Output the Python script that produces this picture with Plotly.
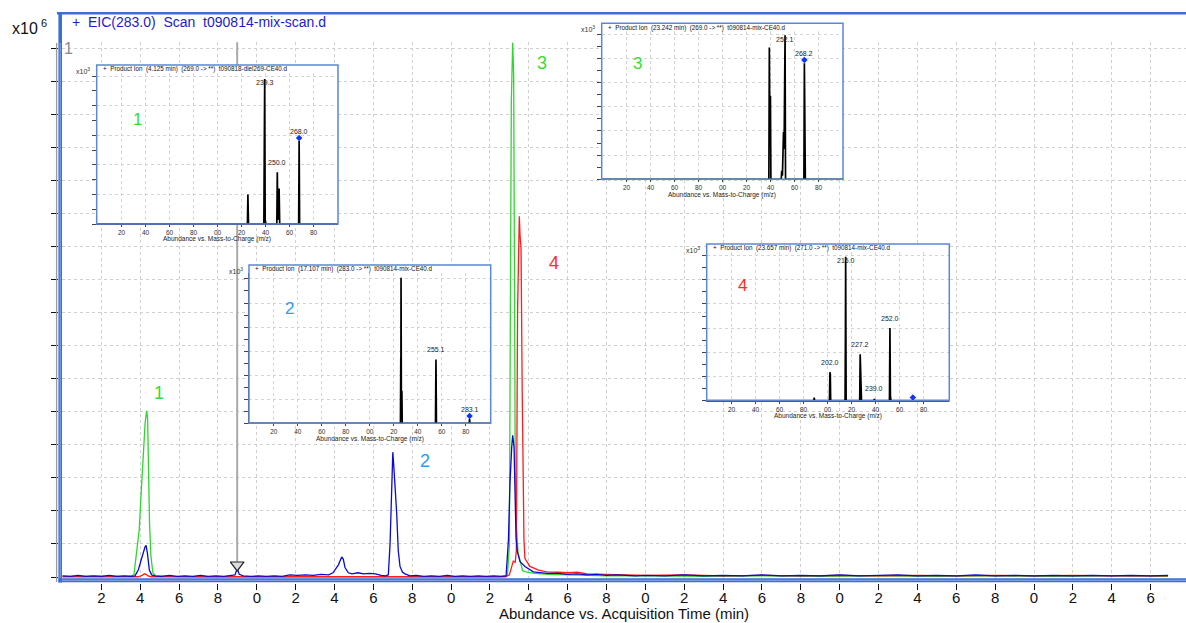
import plotly.graph_objects as go

W, H = 1186, 623
def fx(px): return px / W
def fy(py): return 1 - py / H

# ---------------- main chromatogram data (time [min], abundance [x10^6]) -------------
blue_pts = [
    (0.0, 0.002), (0.4, 0.001), (0.8, 0.003), (1.2, 0.001), (1.6, 0.002), (2.0, 0.001),
    (2.4, 0.003), (2.8, 0.001), (3.2, 0.002), (3.5, 0.001), (3.73, 0.002), (3.9, 0.013),
    (4.07, 0.035), (4.18, 0.05), (4.25, 0.057), (4.30, 0.06), (4.37, 0.045), (4.47, 0.013),
    (4.59, 0.004), (4.76, 0.002), (5.1, 0.001), (5.5, 0.003), (5.9, 0.001), (6.3, 0.002),
    (6.7, 0.001), (7.1, 0.003), (7.5, 0.001), (7.9, 0.002), (8.3, 0.001), (8.7, 0.003),
    (8.88, 0.004), (8.99, 0.016), (9.1, 0.005), (9.3, 0.002), (9.7, 0.001), (10.1, 0.002),
    (10.5, 0.001), (10.9, 0.002), (11.3, 0.001), (11.7, 0.004), (12.1, 0.003), (12.5, 0.004),
    (12.9, 0.003), (13.3, 0.005), (13.7, 0.004), (13.92, 0.008), (14.2, 0.023), (14.37, 0.038),
    (14.45, 0.034), (14.54, 0.018), (14.71, 0.008), (14.9, 0.006), (15.2, 0.008), (15.5, 0.006),
    (15.8, 0.007), (16.1, 0.006), (16.4, 0.003), (16.65, 0.002), (16.77, 0.004), (16.86, 0.064),
    (16.93, 0.15), (16.97, 0.22), (17.0, 0.236), (17.05, 0.21), (17.12, 0.175), (17.2, 0.12),
    (17.28, 0.05), (17.37, 0.02), (17.5, 0.009), (17.63, 0.006), (17.88, 0.002), (18.2, 0.003),
    (18.6, 0.001), (19.0, 0.002), (19.4, 0.001), (19.8, 0.003), (20.2, 0.001), (20.6, 0.002),
    (21.0, 0.001), (21.4, 0.002), (21.8, 0.001), (22.2, 0.002), (22.6, 0.001), (22.83, 0.002),
    (22.95, 0.07), (23.03, 0.177), (23.12, 0.246), (23.17, 0.268), (23.24, 0.246), (23.29, 0.133),
    (23.34, 0.076), (23.41, 0.048), (23.55, 0.029), (23.8, 0.02), (24.23, 0.0097), (24.92, 0.0068),
    (25.5, 0.007), (26.0, 0.005), (26.5, 0.006), (27.0, 0.004), (27.5, 0.005), (28.0, 0.003),
    (28.5, 0.004), (29.0, 0.003), (29.5, 0.002), (30.0, 0.003), (31, 0.002), (32, 0.004),
    (33, 0.002), (34, 0.003), (35, 0.002), (36, 0.004), (37, 0.002), (38, 0.003), (39, 0.002),
    (40, 0.004), (41, 0.002), (42, 0.003), (43, 0.004), (44, 0.002), (45, 0.003), (46, 0.002),
    (47, 0.004), (48, 0.002), (49, 0.003), (50, 0.002), (51, 0.003), (52, 0.002), (53, 0.003),
    (54, 0.002), (55, 0.003), (56, 0.002), (56.9, 0.003),
]

green_pts = [
    (0.0, 0.001), (0.8, 0.0015), (1.6, 0.001), (2.4, 0.0015), (3.2, 0.001), (3.56, 0.002),
    (3.68, 0.005), (3.82, 0.05), (3.95, 0.09), (4.05, 0.16), (4.15, 0.24), (4.25, 0.29),
    (4.33, 0.314), (4.38, 0.30), (4.43, 0.2), (4.48, 0.1), (4.55, 0.04), (4.65, 0.008),
    (4.8, 0.002), (5.5, 0.001), (7, 0.0005), (9, 0.0005), (11, 0.0005), (13, 0.0005),
    (15, 0.0005), (17, 0.0005), (19, 0.0005), (21, 0.0005), (22.5, 0.0005), (22.9, 0.003),
    (23.0, 0.06), (23.05, 0.5), (23.1, 0.9), (23.17, 1.01), (23.22, 0.95), (23.27, 0.5),
    (23.3, 0.2), (23.35, 0.1), (23.45, 0.045), (23.68, 0.012), (23.9, 0.009), (24.3, 0.007),
    (25.0, 0.005), (26.0, 0.004), (27.0, 0.003), (28.0, 0.002), (30, 0.002), (33, 0.001),
    (36, 0.002), (39, 0.001), (42, 0.002), (45, 0.001), (48, 0.002), (51, 0.001), (54, 0.002),
    (56.9, 0.001),
]

red_pts = [
    (0.0, 0.0005), (3.9, 0.0005), (4.1, 0.003), (4.22, 0.006), (4.3, 0.005), (4.4, 0.002),
    (4.55, 0.0005), (5.0, 0.0005), (10, 0.0005), (15, 0.0005), (20, 0.0005), (22.8, 0.0005),
    (23.0, 0.004), (23.1, 0.02), (23.2, 0.03), (23.3, 0.028), (23.36, 0.05), (23.42, 0.5),
    (23.47, 0.66), (23.51, 0.682), (23.55, 0.645), (23.6, 0.62), (23.66, 0.35), (23.7, 0.18),
    (23.75, 0.07), (23.8, 0.035), (24.06, 0.02), (24.5, 0.013), (24.92, 0.0097), (25.5, 0.009),
    (26.0, 0.008), (26.5, 0.009), (27.0, 0.006), (28.0, 0.005), (29.0, 0.004), (30.0, 0.003),
    (32, 0.004), (34, 0.002), (36, 0.003), (38, 0.002), (40, 0.003), (42, 0.002), (44, 0.003),
    (46, 0.002), (48, 0.003), (50, 0.002), (52, 0.003), (54, 0.002), (56.9, 0.002),
]

cursor_time = 8.99
cursor_top = 1.011
cursor_bottom = 0.03
cursor_marker_y = 0.0227

x_ticks = list(range(2, 57, 2))
x_ticktext = [str(v % 10) for v in x_ticks]      # labels appear truncated to last digit
y_ticks = [i * 0.0625 for i in range(17)]

main_title = "+\u00a0 EIC(283.0)\u00a0 Scan\u00a0 t090814-mix-scan.d"
x_title = "Abundance vs. Acquisition Time (min)"

# ---------------- product-ion spectra (insets) -------------------------------
ins1_mz = [99.3, 224.9, 225.3, 225.8, 238.6, 239.0, 239.3, 239.7, 240.3, 249.4, 249.8, 250.3,
           250.8, 251.3, 251.8, 267.6, 268.0, 268.4, 301]
ins1_int = [0, 0, 2.0, 0, 0, 4.4, 9.8, 0.3, 0, 0, 3.5, 0.3, 0.4, 2.4, 0, 0, 5.6, 0, 0]
ins1_labels = [(239.3, "239.3"), (249.8, "250.0"), (268.0, "268.0")]
ins1_prec = 268.0
ins1_title = "+\u00a0 Product Ion\u00a0 (4.125 min)\u00a0 (269.0 -> **)\u00a0 t090818-diel269-CE40.d"

ins2_mz = [99.3, 225.5, 225.8, 225.9, 226.0, 226.3, 226.7, 227.0, 254.7, 255.1, 255.5,
           282.8, 283.1, 283.4, 301]
ins2_int = [0, 0, 5.4, 4.0, 12.1, 0.5, 2.7, 0, 0, 5.3, 0, 0, 0.35, 0, 0]
ins2_labels = [(255.1, "255.1"), (283.1, "283.1")]
ins2_prec = 283.1
ins2_title = "+\u00a0 Product Ion\u00a0 (17.107 min)\u00a0 (283.0 -> **)\u00a0 t090814-mix-CE40.d"

ins3_mz = [99.3, 238.6, 239.0, 239.3, 239.9, 240.3, 248.9, 249.3, 249.9, 250.8, 251.3, 252.1,
           252.5, 267.8, 268.2, 268.6, 269.0, 301]
ins3_int = [0, 0, 10.9, 6.0, 6.9, 0, 0, 0.7, 0.3, 3.9, 2.5, 11.9, 0, 0, 9.6, 0.5, 0, 0]
ins3_labels = [(252.1, "252.1"), (268.2, "268.2")]
ins3_prec = 268.2
ins3_title = "+\u00a0 Product Ion\u00a0 (23.242 min)\u00a0 (269.0 -> **)\u00a0 t090814-mix-CE40.d"

ins4_mz = [99.3, 188.6, 188.9, 189.2, 201.6, 202.0, 202.3, 202.6, 214.6, 214.9, 215.1, 215.5,
           226.8, 227.2, 227.6, 227.9, 228.3, 238.8, 239.0, 239.3, 251.6, 251.9, 252.0, 252.4,
           252.8, 301]
ins4_int = [0, 0, 0.25, 0, 0, 2.35, 2.2, 0, 0, 5.4, 11.9, 0, 0, 3.83, 2.0, 0.3, 0, 0, 0.15, 0,
            0, 4.6, 6.0, 0.4, 0, 0]
ins4_labels = [(202.0, "202.0"), (215.1, "215.0"), (227.2, "227.2"), (239.0, "239.0"),
               (252.0, "252.0")]
ins4_prec = 271.1
ins4_title = "+\u00a0 Product Ion\u00a0 (23.657 min)\u00a0 (271.0 -> **)\u00a0 t090814-mix-CE40.d"

ins_ticks = list(range(120, 281, 20))
ins_ticktext = [f"{v % 100:02d}" for v in ins_ticks]
ins_xtitle = "Abundance vs. Mass-to-Charge (m/z)"

# inset geometry (pixel box: left, right, top, bottom, px per y-tick) and tag
insets = [
    dict(mz=ins1_mz, it=ins1_int, labels=ins1_labels, prec=ins1_prec, title=ins1_title,
         L=96.7, R=338, T=65, B=224, tp=14.8, tag="1", tagcol="#33dd33", tagpos=(131, 108)),
    dict(mz=ins2_mz, it=ins2_int, labels=ins2_labels, prec=ins2_prec, title=ins2_title,
         L=249, R=490.7, T=265, B=423.3, tp=12.03, tag="2", tagcol="#2a9df4", tagpos=(283, 308)),
    dict(mz=ins3_mz, it=ins3_int, labels=ins3_labels, prec=ins3_prec, title=ins3_title,
         L=601.7, R=843, T=23.3, B=179.3, tp=12.1, tag="3", tagcol="#33dd33", tagpos=(637, 52)),
    dict(mz=ins4_mz, it=ins4_int, labels=ins4_labels, prec=ins4_prec, title=ins4_title,
         L=706.7, R=949.3, T=244, B=400.7, tp=12.1, tag="4", tagcol="#ff2a2a", tagpos=(742, 285)),
]

FONT = "Liberation Sans, Arial, sans-serif"
BLUE_FRAME = "#3d6fd0"
GRID = "#cfcfcf"

fig = go.Figure()

# main traces
for pts, col in [(green_pts, "#2fd62f"), (red_pts, "#ff1c1c"), (blue_pts, "#0a0ad0")]:
    fig.add_trace(go.Scatter(x=[p[0] for p in pts], y=[p[1] for p in pts], mode="lines",
                             line=dict(color=col, width=1.3), xaxis="x", yaxis="y",
                             hoverinfo="skip", showlegend=False))

fig.add_trace(go.Scatter(x=[cursor_time, cursor_time], y=[cursor_top, cursor_bottom],
                         mode="lines", line=dict(color="#a9a9a9", width=2),
                         xaxis="x", yaxis="y", hoverinfo="skip", showlegend=False))
fig.add_trace(go.Scatter(x=[cursor_time], y=[cursor_marker_y], mode="markers",
                         marker=dict(symbol="triangle-down", size=12, color="#dcdcdc",
                                     line=dict(color="#222", width=1.2)),
                         xaxis="x", yaxis="y", hoverinfo="skip", showlegend=False))

T0_PX, PXMIN = 62.5, 19.43
Y0_PX, PXU = 577, 529
layout = dict(
    width=W, height=H, margin=dict(l=0, r=0, t=0, b=0),
    paper_bgcolor="white", plot_bgcolor="white", showlegend=False, hovermode=False,
    template="none", font=dict(family=FONT, color="#111"),
    xaxis=dict(domain=[fx(62), 1], range=[(62 - T0_PX) / PXMIN, (W - T0_PX) / PXMIN],
               anchor="free", position=fy(583), tickmode="array", tickvals=x_ticks,
               ticktext=x_ticktext, ticks="outside", ticklen=6, tickcolor="#111",
               ticklabelstandoff=-5,
               tickfont=dict(family=FONT, size=15, color="#111"), showgrid=True,
               gridcolor=GRID, griddash="dot", gridwidth=1, zeroline=False, showline=False),
    yaxis=dict(domain=[fy(578), fy(42)], range=[(Y0_PX - 578) / PXU, (Y0_PX - 42) / PXU],
               anchor="free", position=fx(57.5), tickmode="array", tickvals=y_ticks,
               ticks="outside", ticklen=7, tickcolor="#111", showticklabels=False,
               showgrid=True, gridcolor=GRID, griddash="dot", gridwidth=1,
               zeroline=False, showline=False),
)

shapes = []
annotations = []

for i, ins in enumerate(insets, start=2):
    L, R, T, B, tp = ins["L"], ins["R"], ins["T"], ins["B"], ins["tp"]
    top = T + 8
    xr = [99.3, 99.3 + (R - L) / 1.2]
    ymax = (B - top) / tp
    layout[f"xaxis{i}"] = dict(
        domain=[fx(L), fx(R)], range=xr, anchor=f"y{i}", tickmode="array",
        tickvals=ins_ticks, ticktext=ins_ticktext, ticks="outside", ticklen=2,
        tickcolor="#444", tickfont=dict(family=FONT, size=6.5, color="#333"),
        showgrid=True, gridcolor="#d4d4d4", griddash="dot", gridwidth=1,
        zeroline=False, showline=True, linecolor="#333", linewidth=1)
    layout[f"yaxis{i}"] = dict(
        domain=[fy(B), fy(top)], range=[0, ymax], anchor=f"x{i}", tick0=0, dtick=2,
        ticks="outside", ticklen=4, tickcolor="#444", showticklabels=False,
        showgrid=True, gridcolor="#d4d4d4", griddash="dot", gridwidth=1,
        minor=dict(dtick=1, ticks="outside", ticklen=4, tickcolor="#444", showgrid=False),
        zeroline=False, showline=True, linecolor="#555", linewidth=1)
    fig.add_trace(go.Scatter(x=ins["mz"], y=ins["it"], mode="lines",
                             line=dict(color="#000", width=1.7), xaxis=f"x{i}", yaxis=f"y{i}",
                             hoverinfo="skip", showlegend=False))
    # precursor marker on top of the precursor signal
    prec_int = max([v for m, v in zip(ins["mz"], ins["it"]) if abs(m - ins["prec"]) < 0.45] + [0])
    fig.add_trace(go.Scatter(x=[ins["prec"]], y=[prec_int + 3.2 / tp], mode="markers",
                             marker=dict(symbol="diamond", size=5, color="#1133ff"),
                             xaxis=f"x{i}", yaxis=f"y{i}", hoverinfo="skip", showlegend=False))
    # peak labels
    peak_max = max(ins["it"])
    for mz, txt in ins["labels"]:
        h = max([v for m, v in zip(ins["mz"], ins["it"]) if abs(m - mz) < 0.45] + [0])
        shift = -4 if h >= peak_max - 1e-9 else 10
        annotations.append(dict(x=mz, y=h, xref=f"x{i}", yref=f"y{i}", text=txt,
                                showarrow=False, yshift=shift, yanchor="middle",
                                font=dict(family=FONT, size=7, color="#222")))
    # title row background + border
    shapes.append(dict(type="rect", xref="paper", yref="paper", x0=fx(L), x1=fx(R),
                       y0=fy(top), y1=fy(T), fillcolor="white", line=dict(width=0),
                       layer="above"))
    shapes.append(dict(type="rect", xref="paper", yref="paper", x0=fx(L), x1=fx(R),
                       y0=fy(B), y1=fy(T), fillcolor="rgba(0,0,0,0)",
                       line=dict(color="#5b87d6", width=1.5), layer="above"))
    annotations.append(dict(x=fx(L + 4), y=fy(T + 4.3), xref="paper", yref="paper",
                            text=ins["title"], showarrow=False, xanchor="left",
                            yanchor="middle", font=dict(family=FONT, size=6.3, color="#111")))
    annotations.append(dict(x=fx(L - 4.5), y=fy(T + 6), xref="paper", yref="paper",
                            text="x10<sup>3</sup>", showarrow=False, xanchor="right",
                            yanchor="middle", font=dict(family=FONT, size=7, color="#333")))
    annotations.append(dict(x=fx((L + R) / 2), y=fy(B + 15.5), xref="paper", yref="paper",
                            text=ins_xtitle, showarrow=False, xanchor="center",
                            yanchor="middle", font=dict(family=FONT, size=6.5, color="#222")))
    tx, ty = ins["tagpos"]
    annotations.append(dict(x=fx(tx), y=fy(ty), xref="paper", yref="paper", text=ins["tag"],
                            showarrow=False, font=dict(family=FONT, size=17, color=ins["tagcol"])))

# main frame
shapes += [
    dict(type="line", xref="paper", yref="paper", x0=fx(57), x1=1, y0=fy(13.3), y1=fy(13.3),
         line=dict(color=BLUE_FRAME, width=2.5), layer="above"),
    dict(type="line", xref="paper", yref="paper", x0=fx(56.6), x1=fx(56.6), y0=fy(43),
         y1=fy(582), line=dict(color="#9a9a9a", width=1.3), layer="above"),
    dict(type="line", xref="paper", yref="paper", x0=fx(60.2), x1=fx(60.2), y0=fy(12.2),
         y1=fy(582.5), line=dict(color=BLUE_FRAME, width=3.6), layer="above"),
    dict(type="line", xref="paper", yref="paper", x0=fx(60.2), x1=fx(60.2), y0=fy(43),
         y1=fy(578), line=dict(color="#9db8ec", width=0.8), layer="above"),
    dict(type="line", xref="paper", yref="paper", x0=fx(58.5), x1=1, y0=fy(580.3),
         y1=fy(580.3), line=dict(color=BLUE_FRAME, width=4), layer="above"),
    dict(type="line", xref="paper", yref="paper", x0=fx(62), x1=1, y0=fy(580.3),
         y1=fy(580.3), line=dict(color="#9db8ec", width=0.8), layer="above"),
]

# main texts
annotations += [
    dict(x=fx(70), y=fy(21.7), xref="paper", yref="paper", text=main_title, showarrow=False,
         xanchor="left", yanchor="middle", font=dict(family=FONT, size=14, color="#1c1cc8")),
    dict(x=fx(39.5), y=fy(29), xref="paper", yref="paper", text="x10", showarrow=False,
         xanchor="right", yanchor="middle", font=dict(family=FONT, size=16, color="#111")),
    dict(x=fx(44), y=fy(22.5), xref="paper", yref="paper", text="6", showarrow=False,
         xanchor="center", yanchor="middle", font=dict(family=FONT, size=11, color="#111")),
    dict(x=fx(68.5), y=fy(49), xref="paper", yref="paper", text="1", showarrow=False,
         xanchor="center", yanchor="middle", font=dict(family=FONT, size=16, color="#8a8a8a")),
    dict(x=fx(624), y=fy(613), xref="paper", yref="paper", text=x_title, showarrow=False,
         xanchor="center", yanchor="middle", font=dict(family=FONT, size=15, color="#111")),
    dict(x=fx(152), y=fy(393), xref="paper", yref="paper", text="1", showarrow=False,
         font=dict(family=FONT, size=18, color="#33dd33")),
    dict(x=fx(425), y=fy(473), xref="paper", yref="paper", text="2", showarrow=False,
         font=dict(family=FONT, size=18, color="#2a9df4")),
    dict(x=fx(542), y=fy(51), xref="paper", yref="paper", text="3", showarrow=False,
         font=dict(family=FONT, size=18, color="#33dd33")),
    dict(x=fx(554), y=fy(263), xref="paper", yref="paper", text="4", showarrow=False,
         font=dict(family=FONT, size=18, color="#ff2a2a")),
]

layout["shapes"] = shapes
layout["annotations"] = annotations
fig.update_layout(**layout)
fig.write_html("out.html", config={"displayModeBar": False},
               post_script="document.body.style.margin='0';document.body.style.padding='0';"
                           "document.documentElement.style.overflow='hidden';")
